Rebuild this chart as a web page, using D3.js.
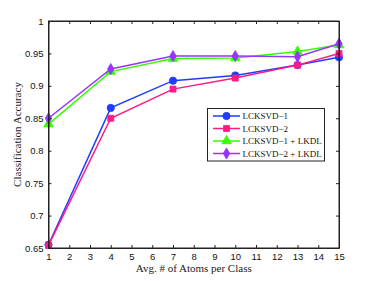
<!DOCTYPE html>
<html><head><meta charset="utf-8">
<script src="https://cdn.jsdelivr.net/npm/d3@7"></script>
<style>body{margin:0;background:#fff}</style>
</head><body>
<svg id="c" width="374" height="281"></svg>
<script>
const xVals = [1, 4, 7, 10, 13, 15];
const seriesNames = ["LCKSVD\u22121", "LCKSVD\u22122", "LCKSVD\u22121 + LKDL", "LCKSVD\u22122 + LKDL"];
const lcksvd1 = [0.655, 0.866, 0.908, 0.916, 0.932, 0.944];
const lcksvd2 = [0.654, 0.850, 0.895, 0.912, 0.932, 0.950];
const lcksvd1Lkdl = [0.841, 0.922, 0.942, 0.943, 0.953, 0.963];
const lcksvd2Lkdl = [0.850, 0.926, 0.946, 0.946, 0.945, 0.965];
const xTicks = [1,2,3,4,5,6,7,8,9,10,11,12,13,14,15];
const yTicks = [0.65,0.7,0.75,0.8,0.85,0.9,0.95,1];
const colors = ["#1f3dff", "#ff1a85", "#33ff00", "#9933ff"];
const symbols = [d3.symbolCircle, d3.symbolSquare, d3.symbolTriangle, d3.symbolDiamond];
const symSizes = [42, 36, 40, 36];
const allSeries = [lcksvd1, lcksvd2, lcksvd1Lkdl, lcksvd2Lkdl];

const svg = d3.select("#c");
const L = 48.5, R = 339, T = 21, B = 248;
const x = d3.scaleLinear().domain([1, 15]).range([L, R]);
const y = d3.scaleLinear().domain([0.65, 1]).range([B, T]);

allSeries.forEach((vals, i) => {
  const pts = xVals.map((xv, j) => [xv, vals[j]]);
  svg.append("path").datum(pts)
    .attr("fill", "none").attr("stroke", colors[i]).attr("stroke-width", 1.5)
    .attr("d", d3.line().x(d => x(d[0])).y(d => y(d[1])));
  svg.selectAll(null).data(pts).enter().append("path")
    .attr("transform", d => `translate(${x(d[0])},${y(d[1])})`)
    .attr("d", d3.symbol().type(symbols[i]).size(symSizes[i]))
    .attr("fill", colors[i]).attr("stroke", colors[i]).attr("stroke-width", 0.8);
});

const tickFont = "Liberation Sans, Arial, sans-serif";
const gx = svg.append("g").attr("transform", `translate(0,${B})`)
  .call(d3.axisBottom(x).tickValues(xTicks).tickFormat(d3.format("d")).tickSizeInner(-3).tickSizeOuter(0).tickPadding(5));
const gxt = svg.append("g").attr("transform", `translate(0,${T})`)
  .call(d3.axisTop(x).tickValues(xTicks).tickFormat("").tickSizeInner(-3).tickSizeOuter(0));
const gy = svg.append("g").attr("transform", `translate(${L},0)`)
  .call(d3.axisLeft(y).tickValues(yTicks).tickFormat(d => d === 1 ? "1" : d3.format("")(+d.toFixed(2))).tickSizeInner(-3).tickSizeOuter(0).tickPadding(5));
const gyr = svg.append("g").attr("transform", `translate(${R},0)`)
  .call(d3.axisRight(y).tickValues(yTicks).tickFormat("").tickSizeInner(-3).tickSizeOuter(0));
[gx, gxt, gy, gyr].forEach(g => {
  g.selectAll("path.domain").attr("stroke", "#222").attr("stroke-width", 1);
  g.selectAll("line").attr("stroke", "#222");
  g.selectAll("text").attr("font-family", tickFont).attr("font-size", 9.5).attr("fill", "#111");
});
svg.append("rect").attr("x", L).attr("y", T).attr("width", R - L).attr("height", B - T)
  .attr("fill", "none").attr("stroke", "#222").attr("stroke-width", 1);

const serif = "Liberation Serif, Times New Roman, serif";
svg.append("text").attr("x", (L + R) / 2).attr("y", 272).attr("text-anchor", "middle")
  .attr("font-family", serif).attr("font-size", 11).attr("fill", "#222")
  .text("Avg. # of Atoms per Class");
svg.append("text").attr("transform", `translate(21,${(T + B) / 2}) rotate(-90)`)
  .attr("text-anchor", "middle").attr("font-family", serif).attr("font-size", 11).attr("fill", "#222")
  .text("Classification Accuracy");

const lg = svg.append("g");
lg.append("rect").attr("x", 207.5).attr("y", 108.5).attr("width", 117).attr("height", 52.5)
  .attr("fill", "#fff").attr("stroke", "#222").attr("stroke-width", 1);
const ly = [116, 128.5, 141, 153.5];
seriesNames.forEach((n, i) => {
  lg.append("line").attr("x1", 213).attr("x2", 240).attr("y1", ly[i]).attr("y2", ly[i])
    .attr("stroke", colors[i]).attr("stroke-width", 1.5);
  lg.append("path").attr("transform", `translate(226.5,${ly[i]})`)
    .attr("d", d3.symbol().type(symbols[i]).size(symSizes[i]))
    .attr("fill", colors[i]).attr("stroke", colors[i]).attr("stroke-width", 0.8);
  lg.append("text").attr("x", 242.5).attr("y", ly[i] + 3.2)
    .attr("font-family", serif).attr("font-size", 9).attr("fill", "#111").text(n);
});
</script>
</body></html>
